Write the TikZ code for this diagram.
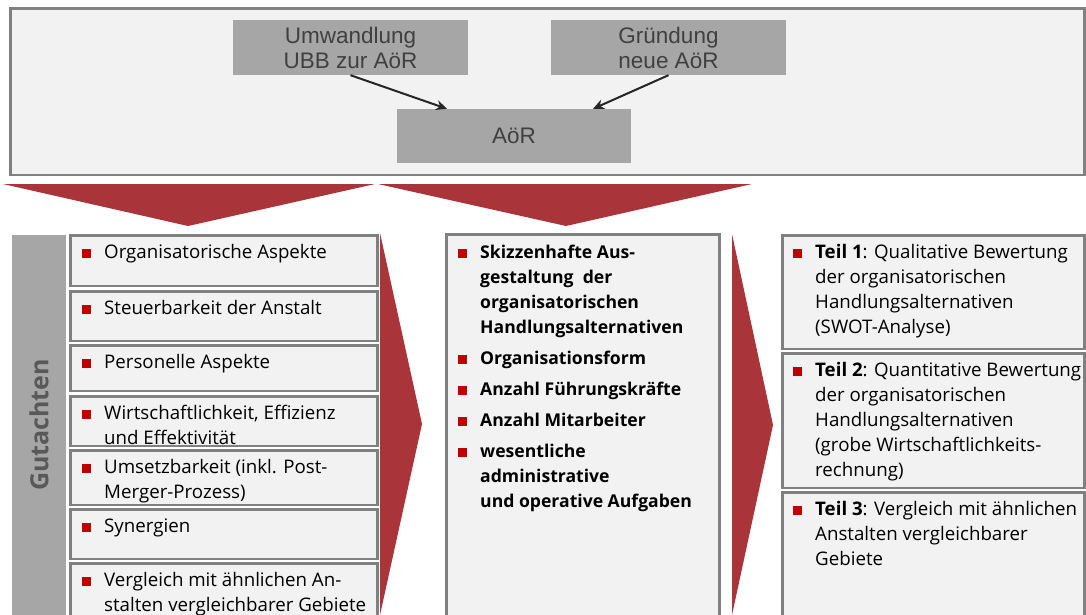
\documentclass[tikz,border=0pt]{standalone}
\usepackage{fontspec}
\setmainfont{Open Sans}
\newfontfamily\headfont{Liberation Sans}
\usepackage{xcolor}
\usepackage{tikz}
\usetikzlibrary{arrows.meta}
\definecolor{frame}{HTML}{808080}
\definecolor{paper}{HTML}{F2F2F2}
\definecolor{slate}{HTML}{A6A6A6}
\definecolor{wine}{HTML}{A9343A}
\definecolor{signal}{HTML}{C00000}
\definecolor{ink}{HTML}{404040}
\definecolor{title}{HTML}{595959}
\newcommand{\sqmark}{\textcolor{signal}{\rule{9pt}{9pt}}}
\newcommand{\pitem}[1]{\par\hangindent=22pt\hangafter=1\noindent\makebox[22pt][l]{\sqmark}#1\par\vspace{6pt}}
\newcommand{\listbox}[1]{\parbox[t]{300pt}{#1}}

\begin{document}
\begin{tikzpicture}[x=1pt,y=-1pt,>=Stealth,
  every node/.style={inner sep=0pt},
  stage/.style={fill=slate,text=ink,font=\headfont\fontsize{22.5}{25}\selectfont,align=center,minimum width=235pt,minimum height=55pt},
  panel/.style={draw=frame,fill=paper,line width=2.5pt},
  entry/.style={anchor=base west,font=\fontsize{18.7}{25}\selectfont},
  strong/.style={entry,font=\bfseries\fontsize{17.6}{25}\selectfont},
  link/.style={-{Stealth[length=11pt,width=10pt]},draw=black!85,line width=2pt}]
  \useasboundingbox (0,0) rectangle (1086,615);
  \draw[panel] (10.5,8.5) rectangle (1084.5,175);
  \node[stage] (umw) at (350.5,47.5) {Umwandlung\\UBB zur AöR};
  \node[stage] (grd) at (668.5,47.5) {Gründung\\neue AöR};
  \node[stage,minimum width=234pt,minimum height=54pt] (aor) at (514,136) {AöR};
  \draw[link] (umw.south) -- ([xshift=-67pt]aor.north);
  \draw[link] (grd.south) -- ([xshift=79pt]aor.north);
  \fill[wine] (3,184) -- (375,184) -- (188,226) -- cycle;
  \fill[wine] (378,184) -- (752,184) -- (566,226) -- cycle;
  \fill[wine] (380,233) -- (422,424) -- (380,615) -- cycle;
  \fill[wine] (732,234) -- (773,425) -- (732,615) -- cycle;
  \fill[slate] (12,235) rectangle (66,620);
  \node[rotate=90,text=title,font=\bfseries\fontsize{25}{25}\selectfont] (gut) at (39,425) {Gutachten};
  \foreach \ya/\yb/\txt [count=\i] in {234/287/{Organisatorische Aspekte},
      290/342/{Steuerbarkeit der Anstalt}, 344/392/{Personelle Aspekte},
      395/447/{Wirtschaftlichkeit, Effizienz\\und Effektivität},
      449/506/{Umsetzbarkeit (inkl. Post-\\Merger-Prozess)}, 508/560/{Synergien},
      562/620/{Vergleich mit ähnlichen An-\\stalten vergleichbarer Gebiete}}
  {
    \draw[panel] (70.5,\ya+1.25) rectangle (377.5,\yb-1.25);
    \node[entry] (g\i) at (82,\ya+24) {\listbox{\pitem{\txt}}};
  }
  \draw[panel] (446.5,234.5) rectangle (719.5,620);
  \node[strong] (mid) at (458,258) {\listbox{\pitem{Skizzenhafte Aus-\\gestaltung~ der\\organisatorischen\\Handlungsalternativen}
    \pitem{Organisationsform}\pitem{Anzahl Führungskräfte}\pitem{Anzahl Mitarbeiter}
    \pitem{wesentliche\\administrative\\und operative Aufgaben}}};
  \foreach \ya/\yb/\txt [count=\i] in {234/350/{\textbf{Teil 1}: Qualitative Bewertung\\der organisatorischen\\Handlungsalternativen\\(SWOT-Analyse)},
      352/489/{\textbf{Teil 2}: Quantitative Bewertung\\der organisatorischen\\Handlungsalternativen\\(grobe Wirtschaftlichkeits-\\rechnung)},
      491/620/{\textbf{Teil 3}: Vergleich mit ähnlichen\\Anstalten vergleichbarer\\Gebiete}}
  {
    \draw[panel] (782.5,\ya+1.25) rectangle (1084.5,\yb-1.25);
    \node[entry] (t\i) at (793,\ya+24) {\listbox{\pitem{\txt}}};
  }
\end{tikzpicture}
\end{document}
